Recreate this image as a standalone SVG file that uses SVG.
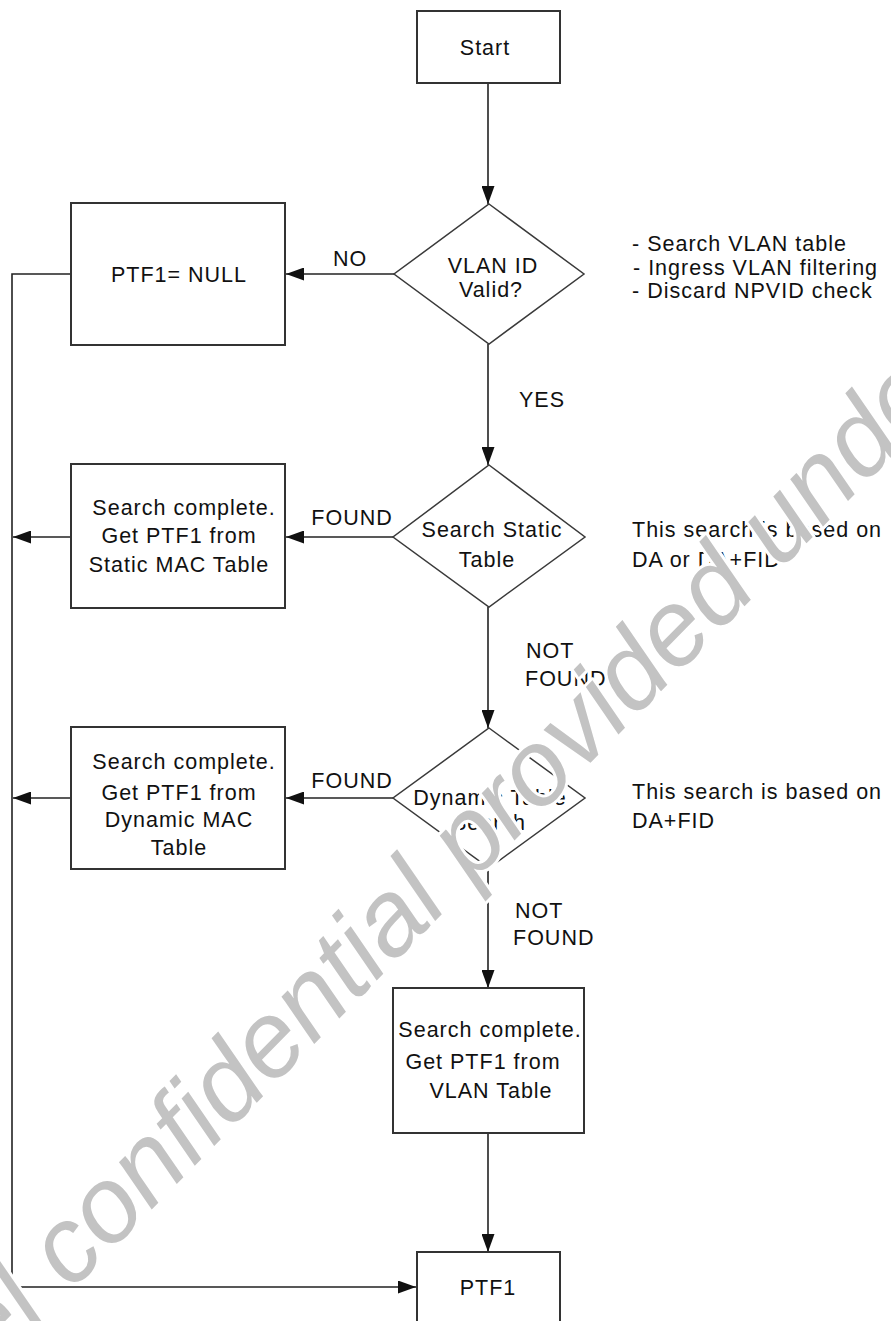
<svg xmlns="http://www.w3.org/2000/svg" width="891" height="1321" viewBox="0 0 891 1321">
<style>
  .box { fill: #ffffff; stroke: #333333; stroke-width: 2; }
  .dia { fill: #ffffff; stroke: #3a3a3a; stroke-width: 1.5; }
  .ln { fill: none; stroke: #222222; stroke-width: 1.6; }
  .t { font-family: "Liberation Sans", Arial, sans-serif; font-size: 21.5px; letter-spacing: 1px; fill: #111111; }
  .c { text-anchor: middle; }
  .wm { font-family: "Liberation Sans", Arial, sans-serif; font-style: italic; font-size: 107px; fill: #c3c3c3; stroke: #ffffff; stroke-width: 6; paint-order: stroke; stroke-linejoin: round; }
</style>
<defs>
  <marker id="arr" markerUnits="userSpaceOnUse" markerWidth="18" markerHeight="13" refX="18" refY="6.5" orient="auto">
    <path d="M0,0 L18,6.5 L0,13 z" fill="#111111"/>
  </marker>
</defs>
<rect width="891" height="1321" fill="#ffffff"/>

<g id="connectors">
  <line class="ln" x1="488" y1="83" x2="488" y2="204" marker-end="url(#arr)"/>
  <line class="ln" x1="394" y1="274" x2="286" y2="274" marker-end="url(#arr)"/>
  <line class="ln" x1="488" y1="344" x2="488" y2="465" marker-end="url(#arr)"/>
  <line class="ln" x1="393" y1="537" x2="286" y2="537" marker-end="url(#arr)"/>
  <line class="ln" x1="71" y1="537" x2="13" y2="537" marker-end="url(#arr)"/>
  <line class="ln" x1="488" y1="607" x2="488" y2="728" marker-end="url(#arr)"/>
  <line class="ln" x1="393" y1="798" x2="286" y2="798" marker-end="url(#arr)"/>
  <line class="ln" x1="71" y1="798" x2="13" y2="798" marker-end="url(#arr)"/>
  <line class="ln" x1="488" y1="868" x2="488" y2="988" marker-end="url(#arr)"/>
  <line class="ln" x1="488" y1="1133" x2="488" y2="1252" marker-end="url(#arr)"/>
  <polyline class="ln" points="71,274 12,274 12,1287 416,1287" marker-end="url(#arr)"/>
  <text class="t c" x="350" y="266">NO</text>
  <text class="t c" x="542" y="407">YES</text>
  <text class="t c" x="352" y="525">FOUND</text>
  <text class="t" x="526" y="658">NOT</text>
  <text class="t" x="525" y="686">FOUND</text>
  <text class="t c" x="352" y="788">FOUND</text>
  <text class="t" x="515" y="918">NOT</text>
  <text class="t" x="513" y="945">FOUND</text>
</g>

<g id="start">
  <rect class="box" x="417" y="11" width="143" height="72"/>
  <text class="t c" x="485" y="55">Start</text>
</g>

<g id="vlan-valid">
  <polygon class="dia" points="489,204 584,274 489,344 394,274"/>
  <text class="t c" x="493" y="273">VLAN ID</text>
  <text class="t c" x="491" y="297">Valid?</text>
</g>

<g id="vlan-notes">
  <text class="t" x="632" y="251">- Search VLAN table</text>
  <text class="t" x="633" y="274.5">- Ingress VLAN filtering</text>
  <text class="t" x="632" y="298">- Discard NPVID check</text>
</g>

<g id="ptf1-null">
  <rect class="box" x="71" y="203" width="214" height="142"/>
  <text class="t c" x="179" y="282">PTF1= NULL</text>
</g>

<g id="search-static">
  <polygon class="dia" points="489,465 585,537 489,607 393,537"/>
  <text class="t c" x="492" y="537">Search Static</text>
  <text class="t c" x="487" y="567">Table</text>
</g>

<g id="static-notes">
  <text class="t" x="632" y="537">This search is based on</text>
  <text class="t" x="632" y="567">DA or DA+FID</text>
</g>

<g id="static-found">
  <rect class="box" x="71" y="464" width="214" height="144"/>
  <text class="t c" x="184" y="515">Search complete.</text>
  <text class="t c" x="179" y="543">Get PTF1 from</text>
  <text class="t c" x="179" y="572">Static MAC Table</text>
</g>

<g id="dynamic-search">
  <polygon class="dia" points="489,728 585,798 489,868 393,798"/>
  <text class="t c" x="490" y="805">Dynamic Table</text>
  <text class="t c" x="489" y="830">Search</text>
</g>

<g id="dynamic-notes">
  <text class="t" x="632" y="799">This search is based on</text>
  <text class="t" x="632" y="828">DA+FID</text>
</g>

<g id="dynamic-found">
  <rect class="box" x="71" y="727" width="214" height="142"/>
  <text class="t c" x="184" y="769">Search complete.</text>
  <text class="t c" x="179" y="800">Get PTF1 from</text>
  <text class="t c" x="179" y="827">Dynamic MAC</text>
  <text class="t c" x="179" y="855">Table</text>
</g>

<g id="vlan-table">
  <rect class="box" x="393" y="988" width="191" height="145"/>
  <text class="t c" x="490" y="1037">Search complete.</text>
  <text class="t c" x="483" y="1069">Get PTF1 from</text>
  <text class="t c" x="491" y="1098">VLAN Table</text>
</g>

<g id="ptf1">
  <rect class="box" x="417" y="1252" width="143" height="90"/>
  <text class="t c" x="488" y="1295">PTF1</text>
</g>

<g id="watermark">
  <text class="wm" transform="translate(-8,1372) rotate(-45.5)">el confidential provided under</text>
</g>
</svg>
